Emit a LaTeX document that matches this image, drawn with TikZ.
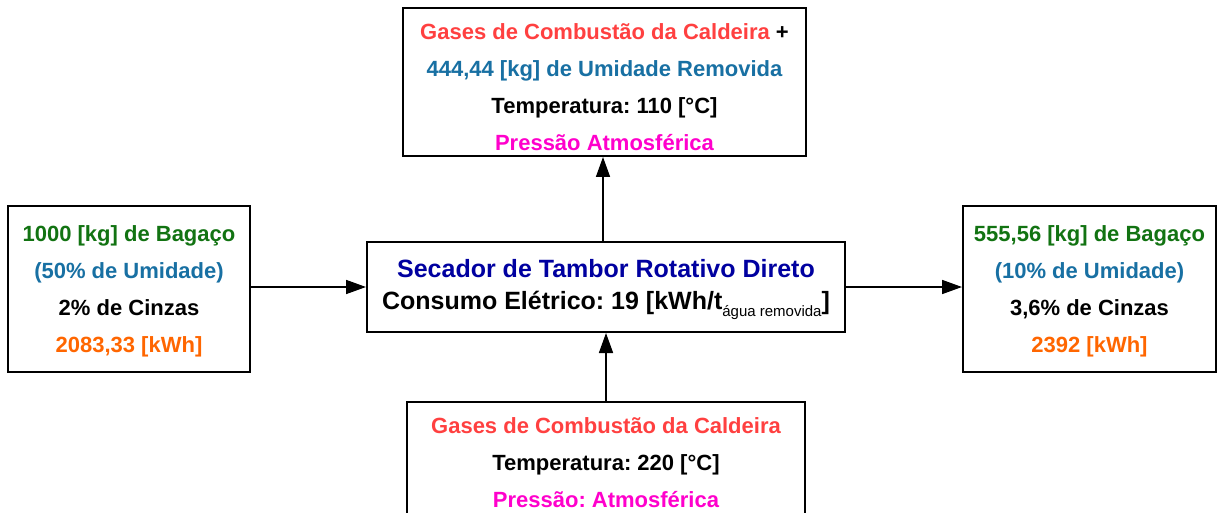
\documentclass[tikz,border=0pt]{standalone}
\usepackage{fontspec}
\setmainfont{Liberation Sans}
\usetikzlibrary{arrows.meta,positioning}
\frenchspacing

\definecolor{gasred}{RGB}{255,64,64}
\definecolor{moistblue}{RGB}{24,112,163}
\definecolor{bagassegreen}{RGB}{18,115,18}
\definecolor{energyorange}{RGB}{255,102,0}
\definecolor{pressmagenta}{RGB}{255,0,204}
\definecolor{titleblue}{RGB}{0,0,160}

% invisible strut that pushes the first row down a little
\newcommand{\toprow}[1]{\rule{0pt}{#1}}

\begin{document}
\begin{tikzpicture}[x=1pt,y=-1pt,
    box/.style={draw=black, line width=2pt, fill=white, align=center, inner sep=0pt,
      font=\fontsize{22}{37}\selectfont\bfseries},
    flow/.style={-{Triangle[length=20pt,width=14pt]}, line width=1.6pt}]
    \useasboundingbox (0,0) rectangle (1218,513);
    \clip (0,0) rectangle (1218,513);

    % Dryer in the middle
    \node[box, minimum width=478pt, minimum height=90pt,
      font=\fontsize{25}{32}\selectfont\bfseries] (dryer) at (606,287)
      {\toprow{24pt}\textcolor{titleblue}{Secador de Tambor Rotativo Direto}\\
       Consumo Elétrico: 19 [kWh/t{\fontsize{15}{15}\selectfont\mdseries\raisebox{-7pt}{água removida}}]};

    % Exhaust gases leaving on top
    \node[box, minimum width=403pt, minimum height=148pt] (exhaust) at (604.5,82)
      {\toprow{27pt}\textcolor{gasred}{Gases de Combustão da Caldeira} +\\
       \textcolor{moistblue}{444,44 [kg] de Umidade Removida}\\
       Temperatura: 110 [°C]\\
       \textcolor{pressmagenta}{Pressão Atmosférica}};

    % Hot gases coming in from below
    \node[box, minimum width=398pt, minimum height=114pt] (hotgas) at (606,459)
      {\toprow{24pt}\textcolor{gasred}{Gases de Combustão da Caldeira}\\
       Temperatura: 220 [°C]\\
       \textcolor{pressmagenta}{Pressão: Atmosférica}};

    % Wet bagasse in
    \node[box, minimum width=242pt, minimum height=166pt] (wetbag) at (129,289)
      {\toprow{20pt}\textcolor{bagassegreen}{1000 [kg] de Bagaço}\\
       \textcolor{moistblue}{(50\% de Umidade)}\\
       2\% de Cinzas\\
       \textcolor{energyorange}{2083,33 [kWh]}};

    % Dry bagasse out
    \node[box, minimum width=253pt, minimum height=166pt] (drybag) at (1089.5,289)
      {\toprow{20pt}\textcolor{bagassegreen}{555,56 [kg] de Bagaço}\\
       \textcolor{moistblue}{(10\% de Umidade)}\\
       3,6\% de Cinzas\\
       \textcolor{energyorange}{2392 [kWh]}};

    % Flows
    \draw[flow] (wetbag.east |- dryer.west) -- (dryer.west);
    \draw[flow] (dryer.east) -- (drybag.west |- dryer.east);
    \draw[flow] ([xshift=-3pt]dryer.north) -- ([xshift=-3pt]dryer.north |- exhaust.south);
    \draw[flow] (hotgas.north) -- (dryer.south);
\end{tikzpicture}
\end{document}
